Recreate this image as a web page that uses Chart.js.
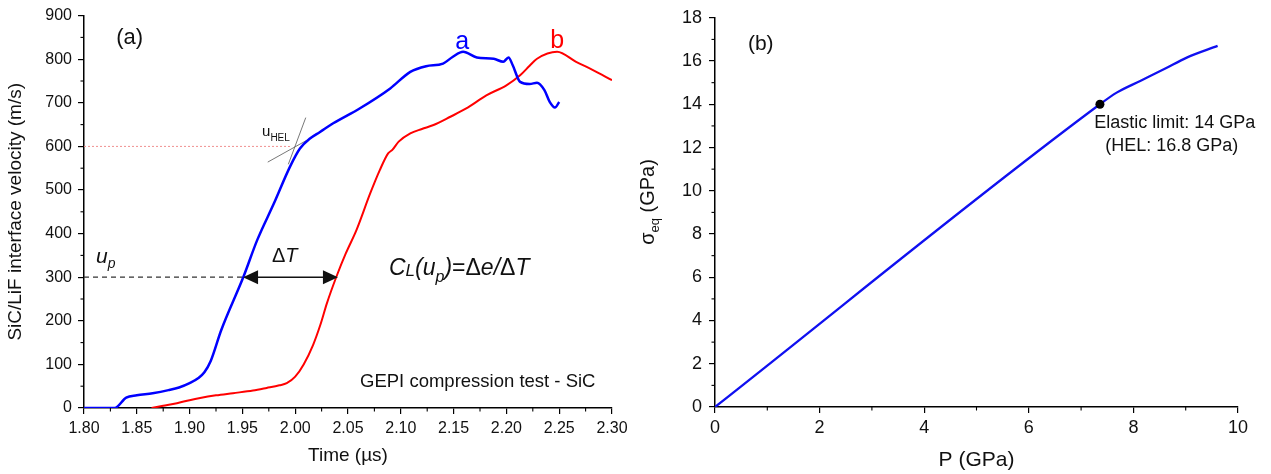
<!DOCTYPE html>
<html>
<head>
<meta charset="utf-8">
<script src="https://cdn.jsdelivr.net/npm/chart.js@4.4.1/dist/chart.umd.min.js"></script>
<style>
html,body{margin:0;padding:0;background:#fff;}
#wrap{position:relative;width:1271px;height:474px;overflow:hidden;background:#fff;}
.box{position:absolute;top:0;height:474px;}
</style>
</head>
<body>
<div id="wrap">
  <div class="box" style="left:0;width:640px;"><canvas id="chart-a" width="640" height="474"></canvas></div>
  <div class="box" style="left:640px;width:631px;"><canvas id="chart-b" width="631" height="474"></canvas></div>
</div>
<script>
// (a) free surface velocity of the SiC/LiF interface
const timeA=[1.800,1.829,1.840,1.850,1.865,1.880,1.890,1.900,1.908,1.914,1.920,1.930,1.951,1.964,1.980,1.995,2.0045,2.014,2.0235,2.036,2.061,2.090,2.109,2.124,2.140,2.149,2.159,2.172,2.188,2.197,2.202,2.206,2.213,2.222,2.229,2.236,2.241,2.246,2.250];
const velA =[0,0,24,29,34,41,47,57,68,82,108,179,301,385,470,553,595,618,633,653,687,733,771,784,790,805,817,804,801,794,804,786,748,743,746,729,702,689,702];
const timeB=[1.864,1.875,1.888,1.900,1.910,1.925,1.941,1.960,1.973,1.985,1.992,2.000,2.008,2.017,2.024,2.030,2.039,2.048,2.058,2.071,2.080,2.088,2.092,2.098,2.109,2.120,2.131,2.147,2.162,2.181,2.200,2.213,2.222,2.229,2.248,2.266,2.282,2.300];
const velB =[0,5,11,18,23,29,34,40,46,52,57,72,100,145,192,240,301,355,408,492,545,584,592,611,630,640,649,668,687,717,740,763,785,801,817,794,775,752];
const timeTicks=[1.80,1.85,1.90,1.95,2.00,2.05,2.10,2.15,2.20,2.25,2.30];
const velTicks=[0,100,200,300,400,500,600,700,800,900];
const uHel=600, uP=300;
const uHelEnd=1.995;
const arrowFrom=1.9506, arrowTo=2.0405;
const tangentShallow=[[1.974,564],[2.011,614]];
const tangentSteep=[[1.9935,559],[2.010,666]];

// (b) equivalent stress vs pressure
const pressure=[0,7.36,7.68,8.13,8.60,9.02,9.61];
const sigmaEq =[0,14.0,14.54,15.08,15.64,16.16,16.70];
const elasticLimit=[7.36,14.0];
const pTicks=[0,2,4,6,8,10];
const sigmaTicks=[0,2,4,6,8,10,12,14,16,18];

const FONT='"Liberation Sans", Arial, sans-serif';
const pts=(xs,ys)=>xs.map((x,i)=>({x,y:ys[i]}));
const seg=(a)=>a.map(p=>({x:p[0],y:p[1]}));

function runs(ctx,x,y,parts){
  // draws text pieces one after the other, each with own font / vertical shift
  parts.forEach(p=>{
    ctx.font=p.f;
    ctx.fillStyle=p.c||'#111';
    ctx.fillText(p.t,x,y+(p.dy||0));
    x+=ctx.measureText(p.t).width;
  });
}

const minorTicks={
  id:'minorTicks',
  afterDraw(chart){
    const ctx=chart.ctx, ca=chart.chartArea;
    ctx.save();
    ctx.strokeStyle='#000';ctx.lineWidth=1.1;
    ['x','y'].forEach(id=>{
      const s=chart.scales[id], t=s.ticks;
      for(let i=0;i<t.length-1;i++){
        const p=s.getPixelForValue((t[i].value+t[i+1].value)/2);
        ctx.beginPath();
        if(id==='x'){ctx.moveTo(p,ca.bottom);ctx.lineTo(p,ca.bottom+3.5);}
        else{ctx.moveTo(ca.left,p);ctx.lineTo(ca.left-3.5,p);}
        ctx.stroke();
      }
    });
    ctx.restore();
  }
};

function axis(ticksArr,min,max,fontSize,pad,fmt,title){
  return {
    type:'linear',min,max,
    afterBuildTicks:s=>{s.ticks=ticksArr.map(v=>({value:v}));},
    border:{color:'#000',width:1.5},
    grid:{drawOnChartArea:false,color:'#000',tickLength:6,lineWidth:1.2},
    ticks:{color:'#111',padding:pad,font:{family:FONT,size:fontSize},callback:fmt,autoSkip:false,maxRotation:0},
    title:title||{display:false}
  };
}

// ---- chart (a)
const annotA={
  id:'annotA',
  afterDraw(chart){
    const ctx=chart.ctx, X=v=>chart.scales.x.getPixelForValue(v), Y=v=>chart.scales.y.getPixelForValue(v);
    ctx.save();
    ctx.textBaseline='alphabetic';ctx.textAlign='left';
    // arrow heads
    ctx.fillStyle='#111';
    const ay=Y(uP), l=X(arrowFrom), r=X(arrowTo);
    ctx.beginPath();ctx.moveTo(l,ay);ctx.lineTo(l+15,ay-7);ctx.lineTo(l+15,ay+7);ctx.closePath();ctx.fill();
    ctx.beginPath();ctx.moveTo(r,ay);ctx.lineTo(r-15,ay-7);ctx.lineTo(r-15,ay+7);ctx.closePath();ctx.fill();
    // texts
    runs(ctx,X(1.8305),Y(836),[{t:'(a)',f:'22px '+FONT}]);
    runs(ctx,X(2.1515),Y(823),[{t:'a',f:'25px '+FONT,c:'#0000ff'}]);
    runs(ctx,X(2.2415),Y(825),[{t:'b',f:'25px '+FONT,c:'#ff0000'}]);
    runs(ctx,X(1.9686),Y(623),[{t:'u',f:'15px '+FONT},{t:'HEL',f:'10px '+FONT,dy:5}]);
    runs(ctx,X(1.8114),Y(333),[{t:'u',f:'italic 21px '+FONT},{t:'p',f:'italic 14px '+FONT,dy:5}]);
    runs(ctx,X(1.978),Y(335),[{t:'\u0394',f:'20px '+FONT},{t:'T',f:'italic 20px '+FONT}]);
    const it='italic 23px '+FONT, rg='23px '+FONT;
    runs(ctx,X(2.0888),Y(305),[{t:'C',f:it},{t:'L',f:'italic 17px '+FONT,dy:1},{t:'(u',f:it},{t:'p',f:'italic 16px '+FONT,dy:7},
      {t:')',f:it},{t:'=',f:rg},{t:'\u0394',f:rg},{t:'e/',f:it},{t:'\u0394',f:rg},{t:'T',f:it}]);
    runs(ctx,X(2.0614),Y(49),[{t:'GEPI compression test - SiC',f:'18.5px '+FONT}]);
    ctx.restore();
  }
};

new Chart(document.getElementById('chart-a'),{
  type:'line',
  data:{datasets:[
    {data:pts(timeA,velA),borderColor:'#0000ff',borderWidth:2.5,pointRadius:0,cubicInterpolationMode:'monotone'},
    {data:pts(timeB,velB),borderColor:'#ff0000',borderWidth:2,pointRadius:0,cubicInterpolationMode:'monotone'},
    {data:[{x:timeTicks[0],y:uHel},{x:uHelEnd,y:uHel}],borderColor:'#f09090',borderWidth:1,borderDash:[2,2],pointRadius:0},
    {data:[{x:timeTicks[0],y:uP},{x:arrowFrom,y:uP}],borderColor:'#333',borderWidth:1.3,borderDash:[5,4],pointRadius:0},
    {data:[{x:arrowFrom+0.01,y:uP},{x:arrowTo-0.01,y:uP}],borderColor:'#111',borderWidth:1.6,pointRadius:0},
    {data:seg(tangentShallow),borderColor:'#555',borderWidth:0.8,pointRadius:0},
    {data:seg(tangentSteep),borderColor:'#555',borderWidth:0.8,pointRadius:0}
  ]},
  options:{
    responsive:false,animation:false,
    layout:{padding:{top:15,right:28,left:0,bottom:0}},
    plugins:{legend:{display:false},tooltip:{enabled:false}},
    scales:{
      x:Object.assign(axis(timeTicks,1.80,2.30,16,5,v=>v.toFixed(2),
        {display:true,text:'Time (\u00b5s)',color:'#111',font:{family:FONT,size:19},padding:{top:0,bottom:7}}),
        {afterFit:s=>{s.height=66;}}),
      y:Object.assign(axis(velTicks,0,900,16,6,v=>v,
        {display:true,text:'SiC/LiF interface velocity (m/s)',color:'#111',font:{family:FONT,size:19},padding:{top:4,bottom:0}}),
        {afterFit:s=>{s.width=84;}})
    }
  },
  plugins:[minorTicks,annotA]
});

// ---- chart (b)
const annotB={
  id:'annotB',
  afterDraw(chart){
    const ctx=chart.ctx, X=v=>chart.scales.x.getPixelForValue(v), Y=v=>chart.scales.y.getPixelForValue(v);
    ctx.save();
    ctx.textBaseline='alphabetic';ctx.textAlign='left';
    runs(ctx,X(0.63),Y(16.51),[{t:'(b)',f:'21px '+FONT}]);
    runs(ctx,X(7.25),Y(12.92),[{t:'Elastic limit: 14 GPa',f:'18px '+FONT}]);
    runs(ctx,X(7.46),Y(11.86),[{t:'(HEL: 16.8 GPa)',f:'18px '+FONT}]);
    // y title with subscript, rotated
    const parts=[{t:'\u03c3',f:'20px '+FONT},{t:'eq',f:'13px '+FONT,dy:5},{t:' (GPa)',f:'20px '+FONT}];
    let w=0;parts.forEach(p=>{ctx.font=p.f;w+=ctx.measureText(p.t).width;});
    ctx.translate(14,202);ctx.rotate(-Math.PI/2);
    runs(ctx,-w/2,0,parts);
    ctx.restore();
  }
};

new Chart(document.getElementById('chart-b'),{
  type:'line',
  data:{datasets:[
    {data:[{x:elasticLimit[0],y:elasticLimit[1]}],showLine:false,pointRadius:4.5,pointBackgroundColor:'#000',pointBorderColor:'#000',pointBorderWidth:0},
    {data:pts(pressure,sigmaEq),borderColor:'#1010f0',borderWidth:2.3,pointRadius:0,cubicInterpolationMode:'monotone'}
  ]},
  options:{
    responsive:false,animation:false,
    layout:{padding:{top:17,right:33,left:0,bottom:0}},
    plugins:{legend:{display:false},tooltip:{enabled:false}},
    scales:{
      x:Object.assign(axis(pTicks,0,10,18,4,v=>v,
        {display:true,text:'P (GPa)',color:'#111',font:{family:FONT,size:21},padding:{top:0,bottom:1}}),
        {afterFit:s=>{s.height=67;}}),
      y:Object.assign(axis(sigmaTicks,0,18,18,7,v=>v),{afterFit:s=>{s.width=75;}})
    }
  },
  plugins:[minorTicks,annotB]
});
</script>
</body>
</html>
